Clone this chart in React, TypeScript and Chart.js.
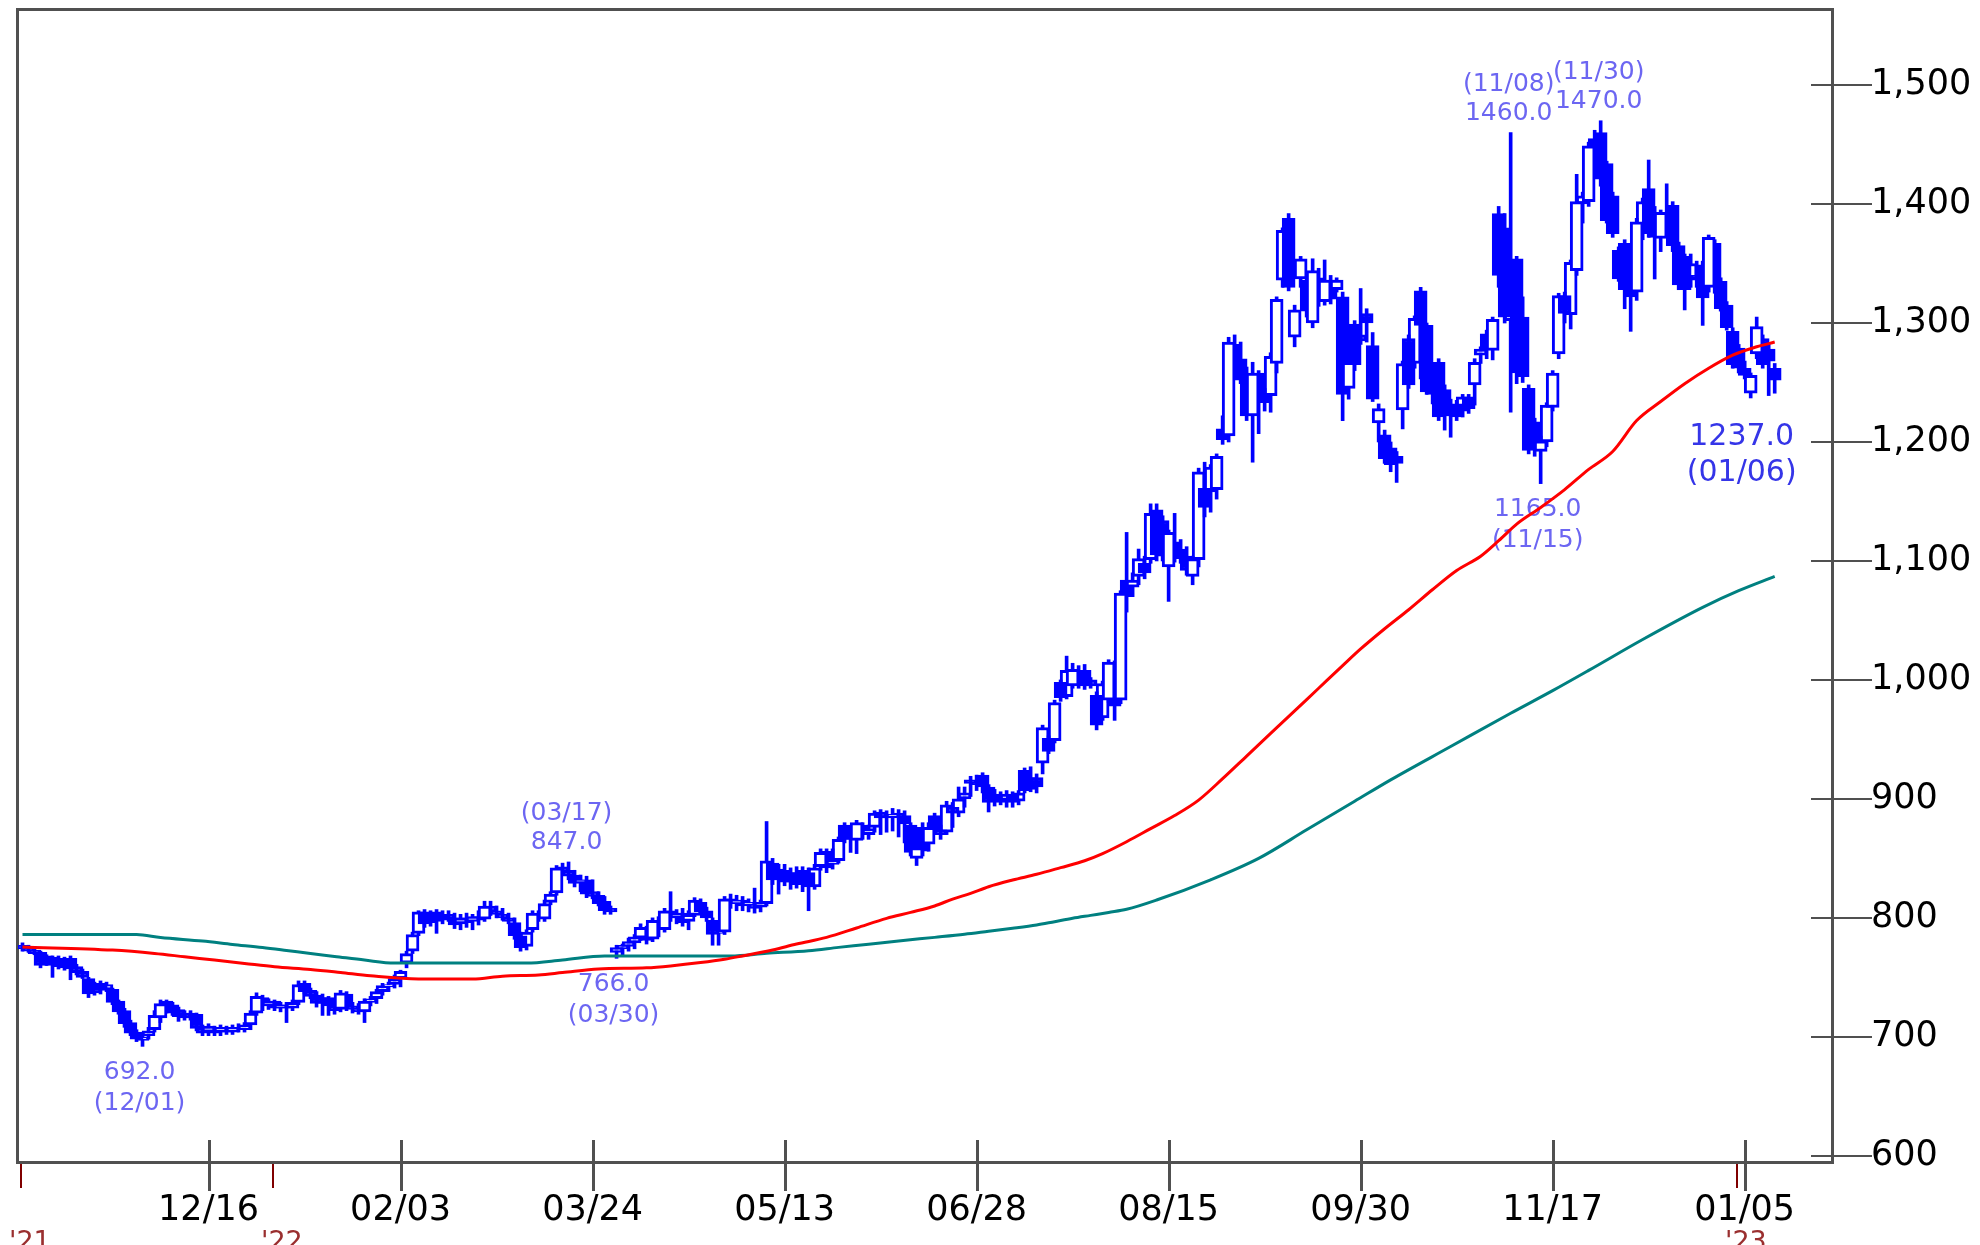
import React, { useEffect, useRef } from 'react';
import { Chart, registerables } from 'chart.js';

Chart.register(...registerables);

// ---- Daily candles, 2021/11/01 .. 2023/01/13 (bar index 0..292) ----
const opens = [
  777, 775, 773, 771, 762, 767, 766, 765, 766, 759,
  755, 749, 737, 745, 740, 740, 730, 722, 712, 704,
  697, 701, 706, 716, 730, 727, 723, 720, 716, 719,
  708, 704, 707, 704, 707, 704, 708, 706, 710, 720,
  733, 726, 730, 724, 727, 724, 729, 745, 739, 735,
  728, 733, 726, 723, 736, 726, 723, 721, 729, 732,
  738, 742, 744, 749, 762, 772, 787, 805, 796, 805,
  798, 803, 800, 795, 800, 797, 801, 799, 810, 806,
  803, 800, 796, 785, 776, 790, 803, 799, 813, 821,
  843, 840, 836, 830, 832, 822, 819, 814, 808, 771,
  774, 776, 779, 783, 791, 782, 797, 790, 806, 800,
  804, 797, 802, 813, 806, 798, 787, 788, 816, 812,
  815, 811, 812, 809, 812, 846, 832, 840, 830, 838,
  829, 838, 826, 843, 856, 845, 848, 878, 866, 865,
  878, 870, 876, 889, 886, 885, 888, 886, 878, 850,
  876, 862, 886, 874, 872, 893, 888, 900, 916, 914,
  920, 910, 904, 901, 898, 903, 898, 924, 908, 918,
  930, 951, 949, 998, 986, 995, 1008, 1008, 1000, 987,
  968, 983, 1014, 983, 1084, 1078, 1087, 1098, 1101, 1143,
  1134, 1095, 1116, 1110, 1104, 1087, 1101, 1161, 1158, 1160,
  1211, 1205, 1282, 1270, 1252, 1222, 1258, 1241, 1239, 1266,
  1336, 1388, 1288, 1337, 1336, 1300, 1338, 1318, 1336, 1328,
  1322, 1245, 1299, 1290, 1308, 1281, 1216, 1206, 1195, 1188,
  1227, 1287, 1266, 1327, 1298, 1245, 1267, 1244, 1231, 1232,
  1226, 1238, 1248, 1273, 1291, 1277, 1392, 1380, 1302, 1354,
  1305, 1245, 1217, 1192, 1200, 1229, 1274, 1323, 1307, 1344,
  1400, 1402, 1455, 1460, 1434, 1407, 1361, 1367, 1353, 1326,
  1375, 1413, 1390, 1371, 1388, 1399, 1365, 1356, 1336, 1340,
  1349, 1330, 1367, 1335, 1315, 1293, 1279, 1262, 1241, 1274,
  1287, 1278, 1262,
];
const highs = [
  779, 777, 776, 772, 769, 768, 768, 767, 768, 761,
  757, 750, 746, 747, 746, 741, 731, 724, 714, 706,
  702, 708, 722, 731, 731, 729, 725, 722, 722, 720,
  710, 711, 709, 710, 709, 710, 711, 712, 722, 737,
  735, 732, 731, 729, 729, 731, 747, 747, 741, 738,
  736, 734, 730, 739, 738, 729, 728, 732, 734, 740,
  745, 746, 752, 756, 772, 788, 806, 807, 806, 807,
  806, 806, 804, 803, 804, 803, 806, 814, 814, 810,
  808, 804, 800, 788, 790, 806, 806, 815, 822, 844,
  846, 847, 840, 836, 835, 832, 822, 818, 810, 777,
  778, 783, 786, 795, 793, 800, 801, 808, 822, 807,
  808, 806, 817, 816, 809, 800, 790, 818, 820, 819,
  818, 816, 825, 815, 881, 850, 845, 845, 842, 843,
  843, 842, 845, 858, 858, 858, 868, 880, 870, 882,
  880, 878, 890, 891, 890, 892, 891, 890, 880, 862,
  880, 880, 888, 878, 898, 897, 910, 910, 919, 920,
  922, 912, 908, 906, 907, 906, 907, 926, 927, 921,
  962, 953, 983, 1000, 1020, 1014, 1012, 1013, 1002, 990,
  999, 1017, 1016, 1075, 1124, 1090, 1110, 1104, 1148, 1148,
  1138, 1126, 1140, 1118, 1112, 1104, 1178, 1183, 1181, 1190,
  1222, 1288, 1290, 1284, 1263, 1267, 1260, 1245, 1275, 1322,
  1380, 1392, 1315, 1356, 1340, 1354, 1346, 1353, 1340, 1338,
  1326, 1270, 1302, 1329, 1312, 1292, 1232, 1210, 1200, 1192,
  1268, 1290, 1306, 1330, 1300, 1250, 1270, 1248, 1236, 1235,
  1240, 1240, 1270, 1280, 1294, 1305, 1398, 1392, 1460, 1356,
  1322, 1248, 1220, 1205, 1233, 1260, 1325, 1326, 1353, 1425,
  1410, 1452, 1462, 1470, 1436, 1410, 1364, 1370, 1356, 1388,
  1405, 1437, 1398, 1395, 1417, 1402, 1368, 1358, 1358, 1352,
  1352, 1374, 1370, 1338, 1318, 1296, 1282, 1268, 1258, 1305,
  1290, 1282, 1266,
];
const lows = [
  772, 771, 769, 758, 760, 750, 757, 756, 748, 752,
  749, 733, 735, 736, 738, 727, 719, 708, 701, 696,
  692, 698, 704, 712, 720, 718, 713, 714, 714, 705,
  701, 701, 701, 701, 702, 702, 704, 704, 706, 718,
  722, 723, 722, 721, 712, 722, 727, 736, 732, 725,
  718, 718, 719, 721, 722, 720, 719, 712, 726, 728,
  735, 738, 741, 742, 758, 770, 785, 792, 793, 787,
  795, 797, 791, 790, 792, 790, 794, 797, 802, 800,
  798, 795, 782, 772, 773, 788, 797, 797, 811, 819,
  836, 832, 826, 822, 817, 816, 810, 803, 803, 766,
  768, 772, 774, 781, 778, 780, 784, 788, 797, 795,
  793, 790, 801, 803, 797, 777, 777, 786, 808, 806,
  806, 805, 804, 805, 810, 828, 820, 827, 824, 825,
  822, 806, 824, 840, 838, 841, 846, 863, 855, 854,
  866, 866, 872, 870, 872, 873, 868, 863, 852, 844,
  852, 856, 870, 866, 870, 876, 885, 893, 902, 907,
  905, 889, 894, 895, 893, 893, 895, 905, 906, 905,
  921, 938, 947, 982, 984, 993, 993, 992, 993, 958,
  966, 981, 966, 980, 1057, 1070, 1080, 1085, 1098, 1100,
  1100, 1066, 1099, 1098, 1088, 1080, 1095, 1137, 1141, 1152,
  1198, 1200, 1262, 1249, 1218, 1183, 1207, 1226, 1225, 1258,
  1330, 1327, 1280, 1330, 1305, 1296, 1314, 1315, 1316, 1326,
  1218, 1236, 1260, 1282, 1284, 1234, 1200, 1182, 1175, 1166,
  1211, 1245, 1262, 1253, 1240, 1232, 1218, 1210, 1204, 1218,
  1221, 1224, 1231, 1266, 1270, 1269, 1330, 1300, 1225, 1249,
  1250, 1190, 1188, 1165, 1196, 1226, 1270, 1300, 1295, 1340,
  1384, 1398, 1424, 1415, 1384, 1372, 1335, 1312, 1293, 1319,
  1370, 1372, 1337, 1360, 1383, 1360, 1328, 1311, 1330, 1330,
  1298, 1326, 1325, 1310, 1294, 1262, 1258, 1253, 1237, 1270,
  1262, 1239, 1241,
];
const closes = [
  774, 772, 770, 760, 768, 760, 759, 758, 757, 754,
  750, 736, 744, 739, 744, 729, 721, 711, 703, 698,
  700, 705, 718, 728, 722, 720, 717, 716, 720, 707,
  703, 709, 703, 708, 704, 708, 706, 710, 720, 734,
  726, 730, 724, 727, 724, 729, 744, 738, 734, 728,
  733, 726, 722, 737, 725, 723, 721, 730, 732, 738,
  743, 744, 749, 755, 770, 786, 805, 795, 804, 797,
  803, 799, 794, 800, 796, 801, 798, 810, 805, 803,
  800, 797, 785, 775, 788, 804, 800, 812, 820, 842,
  838, 835, 829, 832, 820, 818, 812, 806, 805, 775,
  777, 780, 784, 792, 781, 798, 790, 806, 800, 804,
  796, 803, 815, 805, 800, 786, 788, 816, 812, 815,
  810, 813, 808, 813, 848, 832, 841, 830, 838, 828,
  840, 826, 842, 855, 842, 848, 866, 866, 868, 880,
  870, 875, 888, 884, 884, 887, 884, 879, 855, 859,
  856, 876, 874, 870, 895, 888, 900, 905, 913, 912,
  910, 897, 898, 897, 904, 897, 905, 907, 918, 910,
  960, 940, 981, 985, 1008, 1009, 996, 995, 995, 962,
  997, 1015, 978, 1073, 1070, 1084, 1102, 1090, 1140, 1105,
  1104, 1124, 1102, 1104, 1092, 1102, 1175, 1145, 1179, 1188,
  1202, 1284, 1270, 1252, 1222, 1258, 1241, 1233, 1272, 1320,
  1378, 1330, 1311, 1354, 1310, 1344, 1318, 1336, 1320, 1336,
  1240, 1267, 1265, 1285, 1300, 1236, 1228, 1186, 1181, 1182,
  1266, 1248, 1304, 1298, 1242, 1240, 1221, 1222, 1222, 1221,
  1238, 1228, 1267, 1278, 1278, 1303, 1340, 1305, 1341, 1258,
  1255, 1193, 1195, 1201, 1231, 1258, 1323, 1308, 1351, 1402,
  1407, 1449, 1428, 1421, 1386, 1375, 1337, 1328, 1322, 1385,
  1402, 1376, 1372, 1393, 1393, 1365, 1332, 1328, 1350, 1338,
  1321, 1372, 1333, 1312, 1296, 1265, 1262, 1256, 1256, 1297,
  1265, 1268, 1252,
];

// ---- Moving averages (bar index, price) ----
const maShortIdx = [0, 15, 22, 27, 32, 37, 42, 48, 53, 58, 66, 75, 80, 86, 90, 96, 104, 108, 113, 117, 120, 125, 129, 134, 139, 144, 148, 152, 155, 158, 161, 165, 169, 173, 177, 180, 184, 188, 192, 196, 200, 204, 208, 212, 216, 220, 223, 227, 231, 235, 239, 243, 246, 249, 253, 257, 261, 265, 269, 273, 277, 281, 285, 289, 292];
const maShortVal = [775.5, 772.9, 770.1, 767.3, 764.5, 761.7, 758.9, 756.7, 754.1, 751.3, 748.6, 748.6, 751, 752, 754, 757, 758, 759.6, 762.4, 765.2, 768, 773, 778, 783.6, 791.5, 799.6, 804.6, 810, 815.8, 820.6, 826.2, 831.8, 836.6, 842.2, 848, 854, 864, 875, 886, 899, 917, 936, 955, 974, 993, 1012, 1026, 1043, 1059, 1076, 1092, 1104, 1117, 1131, 1145, 1160, 1177, 1192, 1218, 1234, 1249, 1262, 1273, 1280, 1284];
const maLongIdx = [0, 19, 23, 30, 35, 40, 44, 48, 52, 57, 62, 84, 90, 97, 118, 124, 131, 136, 141, 146, 152, 157, 161, 165, 169, 172, 175, 178, 181, 184, 189, 198, 206, 214, 222, 228, 238, 248, 255, 261, 270, 280, 286, 292];
const maLongVal = [786, 786, 783.5, 780.5, 777.7, 775.1, 772.6, 770, 767.6, 764.5, 762, 762, 764.6, 768, 768, 770.2, 772.4, 775.2, 777.8, 780.6, 783.6, 786.2, 788.7, 791.2, 794, 796.8, 799.6, 802.1, 804.6, 807.2, 815, 832, 850, 874, 898, 916, 944, 972, 991, 1008, 1034, 1061, 1075, 1087];

// ---- Axis ticks ----
const xTickIndex = [31, 63, 95, 127, 159, 191, 223, 255, 287];
const xTickLabels = ['12/16', '02/03', '03/24', '05/13', '06/28', '08/15', '09/30', '11/17', '01/05'];
const yearIndex = [0, 42, 286];
const yearLabels = ["'21", "'22", "'23"];
const yTicks = [600, 700, 800, 900, 1000, 1100, 1200, 1300, 1400, 1500];

// ---- High / low markers ----
const markIndex = [20, 91, 99, 248, 263, 253, 288];
const markKind = ['low', 'high', 'low', 'high', 'high', 'low', 'low'];
const markDate = ['12/01', '03/17', '03/30', '11/08', '11/30', '11/15', '01/06'];

const FONT = "'DejaVu Sans', sans-serif";
const CANDLE = '#0000ff';

const decorPlugin = {
  id: 'decor',
  beforeDatasetsDraw(chart: any) {
    const { ctx, chartArea } = chart;
    const xs = chart.scales.x;
    const ys = chart.scales.y;
    const { left, right, top, bottom } = chartArea;
    ctx.save();
    // frame
    ctx.strokeStyle = '#505050';
    ctx.lineWidth = 3;
    ctx.strokeRect(left - 0.5, top - 0.5, right - left + 1, bottom - top + 1);
    // y tick marks
    ctx.lineWidth = 2;
    yTicks.forEach((v) => {
      const y = Math.round(ys.getPixelForValue(v));
      ctx.beginPath();
      ctx.moveTo(right - 21, y);
      ctx.lineTo(right + 40, y);
      ctx.stroke();
    });
    // x tick marks
    ctx.lineWidth = 3;
    xTickIndex.forEach((i) => {
      const x = Math.round(xs.getPixelForValue(i)) + 0.5;
      ctx.beginPath();
      ctx.moveTo(x, bottom - 22);
      ctx.lineTo(x, bottom + 29);
      ctx.stroke();
    });
    // year marks
    ctx.strokeStyle = '#800000';
    ctx.fillStyle = '#9a2f2f';
    ctx.lineWidth = 2;
    ctx.font = `27px ${FONT}`;
    ctx.textBaseline = 'top';
    ctx.textAlign = 'left';
    yearIndex.forEach((i, k) => {
      const x = Math.round(xs.getPixelForValue(i)) - 2;
      ctx.beginPath();
      ctx.moveTo(x, bottom + 2);
      ctx.lineTo(x, bottom + 26);
      ctx.stroke();
      ctx.fillText(yearLabels[k], x - 12, bottom + 67);
    });
    // high / low annotations
    ctx.textAlign = 'center';
    ctx.textBaseline = 'middle';
    markIndex.forEach((i, k) => {
      const isLow = markKind[k] === 'low';
      const v = isLow ? lows[i] : highs[i];
      const x = xs.getPixelForValue(i);
      const y = ys.getPixelForValue(v);
      const valueText = v.toFixed(1);
      const dateText = `(${markDate[k]})`;
      const last = k === markIndex.length - 1;
      if (last) {
        ctx.fillStyle = '#3535e8';
        ctx.font = `30px ${FONT}`;
        ctx.fillText(valueText, x - 9, y + 39);
        ctx.fillText(dateText, x - 9, y + 75);
      } else {
        ctx.fillStyle = '#6c66f2';
        ctx.font = `25px ${FONT}`;
        if (isLow) {
          ctx.fillText(valueText, x - 3, y + 26);
          ctx.fillText(dateText, x - 3, y + 57);
        } else {
          ctx.fillText(valueText, x - 2, y - 19);
          ctx.fillText(dateText, x - 2, y - 48);
        }
      }
    });
    ctx.restore();
  },
};

function candleSets(parity: number, baseOrder: number) {
  const ids = opens.map((_, i) => i).filter((i) => i % 2 === parity);
  const body = {
    type: 'bar',
    label: `body${parity}`,
    data: ids.map((i) => ({ x: i, y: [opens[i], closes[i]] })),
    backgroundColor: ids.map((i) => (closes[i] >= opens[i] ? '#ffffff' : CANDLE)),
    borderColor: CANDLE,
    borderWidth: 3,
    borderSkipped: false,
    barThickness: 13,
    grouped: false,
    order: baseOrder,
  };
  const wick = {
    type: 'bar',
    label: `wick${parity}`,
    data: ids.map((i) => ({ x: i, y: [lows[i], highs[i]] })),
    backgroundColor: CANDLE,
    borderWidth: 0,
    barThickness: 3,
    grouped: false,
    order: baseOrder + 1,
  };
  return [body, wick];
}

export default function App() {
  const ref = useRef<HTMLCanvasElement>(null);
  useEffect(() => {
    const chart = new Chart(ref.current as HTMLCanvasElement, {
      type: 'bar',
      data: {
        datasets: [
          {
            type: 'line',
            label: 'MA short',
            data: maShortIdx.map((x, k) => ({ x, y: maShortVal[k] })),
            borderColor: '#ff0000',
            borderWidth: 3,
            pointRadius: 0,
            cubicInterpolationMode: 'monotone',
            order: 0,
          },
          {
            type: 'line',
            label: 'MA long',
            data: maLongIdx.map((x, k) => ({ x, y: maLongVal[k] })),
            borderColor: '#008080',
            borderWidth: 3,
            pointRadius: 0,
            cubicInterpolationMode: 'monotone',
            order: 1,
          },
          ...candleSets(1, 2),
          ...candleSets(0, 4),
        ] as any,
      },
      options: {
        responsive: false,
        animation: false,
        devicePixelRatio: 1,
        events: [],
        layout: { padding: { left: 18, top: 10, right: 0, bottom: 0 }, autoPadding: false },
        plugins: { legend: { display: false }, tooltip: { enabled: false } },
        scales: {
          x: {
            type: 'linear',
            min: -0.75,
            max: 301.55,
            offset: false,
            grid: { display: false, drawTicks: true, tickLength: 22 },
            border: { display: false },
            afterBuildTicks: (s: any) => {
              s.ticks = xTickIndex.map((v) => ({ value: v }));
            },
            afterFit: (s: any) => {
              s.height = 83;
              s.paddingLeft = 0;
              s.paddingRight = 0;
            },
            ticks: {
              autoSkip: false,
              maxRotation: 0,
              minRotation: 0,
              padding: 6,
              color: '#000000',
              font: { family: FONT, size: 35 },
              callback: (v: any) => {
                const k = xTickIndex.indexOf(Number(v));
                return k >= 0 ? xTickLabels[k] : '';
              },
            },
          },
          y: {
            type: 'linear',
            position: 'right',
            min: 594.8,
            max: 1563.1,
            grid: { display: false, drawTicks: true, tickLength: 39 },
            border: { display: false },
            afterBuildTicks: (s: any) => {
              s.ticks = yTicks.map((v) => ({ value: v }));
            },
            afterFit: (s: any) => {
              s.width = 148;
              s.paddingTop = 0;
              s.paddingBottom = 0;
            },
            ticks: {
              padding: 0,
              color: '#000000',
              font: { family: FONT, size: 35 },
              callback: (v: any) => Number(v).toLocaleString('en-US'),
            },
          },
        },
      } as any,
      plugins: [decorPlugin],
    });
    return () => chart.destroy();
  }, []);
  return (
    <div style={{ position: 'absolute', left: 0, top: 0, width: 1980, height: 1245, background: '#ffffff' }}>
      <canvas ref={ref} width={1980} height={1245} style={{ display: 'block', width: 1980, height: 1245 }} />
    </div>
  );
}
